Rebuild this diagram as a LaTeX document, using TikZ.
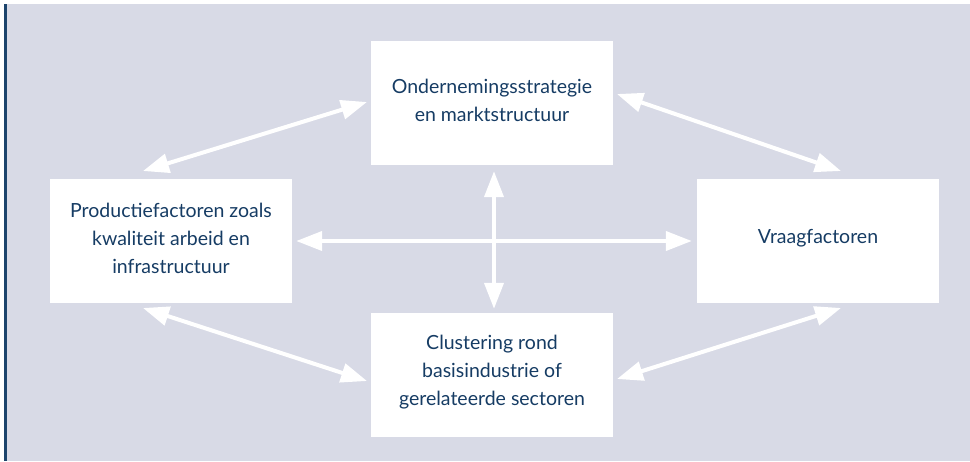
\documentclass[tikz,border=0pt]{standalone}
\usepackage{fontspec}
\setmainfont{Lato}
\usetikzlibrary{arrows.meta}
\definecolor{bgc}{RGB}{216,218,230}
\definecolor{barc}{RGB}{28,68,108}
\definecolor{txtc}{RGB}{22,60,100}
\tikzset{
  box/.style={fill=white, draw=none, minimum width=242pt, minimum height=124pt,
    inner sep=0pt},
  boxtext/.style={inner sep=0pt, align=center, text=txtc,
    font=\fontsize{19.5}{28}\selectfont, yshift=3pt},
  link/.style={draw=white, line width=4pt,
    {Triangle[length=26pt,width=19pt]}-{Triangle[length=26pt,width=19pt]}}
}
\begin{document}
\begin{tikzpicture}[x=1pt,y=-1pt]
\useasboundingbox (0,0) rectangle (970,461);
\fill[white] (0,0) rectangle (970,461);
\fill[bgc] (5,4) rectangle (970,461);
\fill[barc] (4,4) rectangle (6.7,461);

\node[box] (top) at (492,103) {};
\node[box] (left) at (171,241) {};
\node[box] (right) at (818,241) {};
\node[box] (bot) at (492,375) {};
\node[boxtext] (topt) at (top.center) {Ondernemingsstrategie\\en marktstructuur};
\node[boxtext] (leftt) at (left.center) {Productiefactoren zoals\\kwaliteit arbeid en\\infrastructuur};
\node[boxtext] (rightt) at (right.center) {Vraagfactoren};
\node[boxtext] (bott) at (bot.center) {Clustering rond\\basisindustrie of\\gerelateerde sectoren};

\coordinate (tl1) at (143,171);
\coordinate (tl2) at (367,102);
\coordinate (tr1) at (617,94);
\coordinate (tr2) at (841,171);
\coordinate (bl1) at (143,308);
\coordinate (bl2) at (367,381);
\coordinate (br1) at (617,379);
\coordinate (br2) at (841,308);

\draw[link, shorten <=4pt, shorten >=5pt] (left.east) -- (right.west);
\draw[link, shorten <=6pt, shorten >=4pt] (top.south -| 494,0) -- (bot.north -| 494,0);
\draw[link] (tl1) -- (tl2);
\draw[link] (tr1) -- (tr2);
\draw[link] (bl1) -- (bl2);
\draw[link] (br1) -- (br2);
\end{tikzpicture}
\end{document}
